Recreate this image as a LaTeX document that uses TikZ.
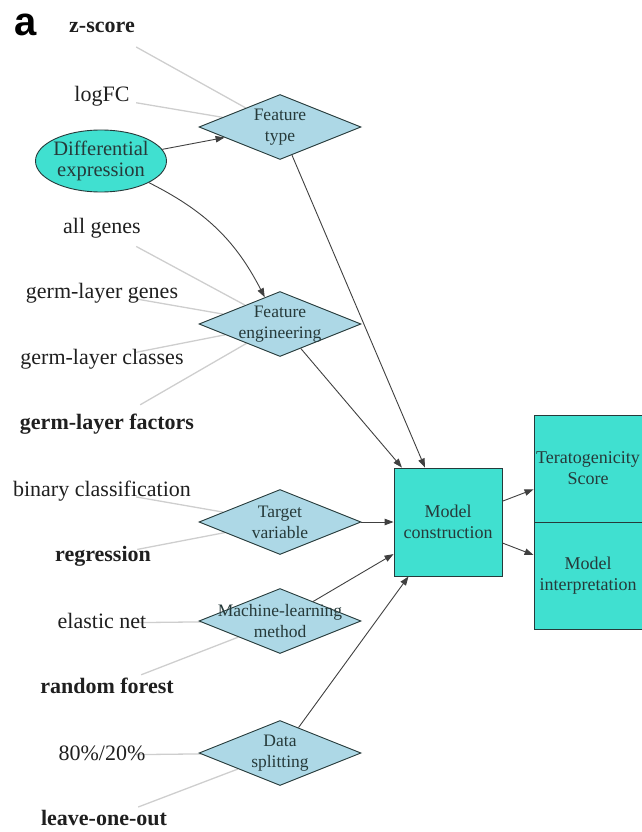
\documentclass[tikz,border=0pt]{standalone}
\usepackage{fontspec}
\setmainfont{Liberation Serif}
\newfontfamily\panelfont{Liberation Sans}
\usetikzlibrary{arrows.meta,shapes.geometric,backgrounds}

\definecolor{turq}{RGB}{64,224,208}
\definecolor{lblue}{RGB}{173,216,230}
\definecolor{slate}{RGB}{38,58,58}
\definecolor{optline}{RGB}{206,206,206}

\begin{document}
\begin{tikzpicture}[x=1pt, y=-1pt, > = {Triangle[length=9pt,width=6.5pt]}]
            \tikzstyle{opt}=[rectangle, minimum width=68pt, minimum height=38pt, inner sep=0pt]
            \tikzstyle{otxt}=[font=\rmfamily\fontsize{22}{26}\selectfont, text=black!88, text height=15pt, text depth=5pt, inner sep=0pt]
            \tikzstyle{obtxt}=[otxt, font=\rmfamily\fontsize{22}{26}\selectfont\bfseries]
            \tikzstyle{dia}=[diamond, draw=slate, fill=lblue, line width=0.9pt, minimum width=162pt, minimum height=65pt, inner sep=0pt]
            \tikzstyle{dtxt}=[font=\rmfamily\fontsize{17.5}{21}\selectfont, text=slate, align=center, inner sep=0pt]
            \tikzstyle{box}=[rectangle, draw=slate, fill=turq, line width=0.9pt, minimum width=108pt, minimum height=108pt, inner sep=0pt, font=\rmfamily\fontsize{18}{21}\selectfont, text=slate, align=center]
            \tikzstyle{edge}=[->, draw=black!75, line width=0.9pt]
            \tikzstyle{optedge}=[draw=optline, line width=1.3pt]

            \useasboundingbox (0,0) rectangle (641,832);

            % panel letter
            \node[font=\panelfont\bfseries\fontsize{40}{40}\selectfont] (panel) at (26,25) {a};

            % options
            \node[opt, label={[obtxt]center:z-score}] (zscore) at (102,28) {};
            \node[opt, label={[otxt]center:logFC}] (logfc) at (102,97) {};
            \node[opt, label={[otxt]center:all genes}] (allg) at (102,228) {};
            \node[opt, label={[otxt]center:germ-layer genes}] (glgenes) at (102,293) {};
            \node[opt, label={[otxt]center:germ-layer classes}] (glclass) at (102,359) {};
            \node[opt, label={[obtxt]center:germ-layer factors}] (glfact) at (107,424) {};
            \node[opt, label={[otxt]center:binary classification}] (binclass) at (102,491) {};
            \node[opt, label={[obtxt]center:regression}] (regr) at (103,556) {};
            \node[opt, label={[otxt]center:elastic net}] (enet) at (102,623) {};
            \node[opt, label={[obtxt]center:random forest}] (rforest) at (107,688) {};
            \node[opt, label={[otxt]center:80\%/20\%}] (split) at (102,755) {};
            \node[opt, label={[obtxt]center:leave-one-out}] (loo) at (104,820) {};

            % decisions
            \node[ellipse, draw=slate, fill=turq, line width=0.9pt, minimum width=131pt, minimum height=62pt, inner sep=0pt,
                  label={[dtxt, font=\rmfamily\fontsize{20.5}{21}\selectfont]center:{Differential\\expression}}] (diff) at (101,161) {};
            \node[dia, label={[dtxt]center:{Feature\\type}}] (ftype) at (280,127) {};
            \node[dia, label={[dtxt]center:{Feature\\engineering}}] (feng) at (280,324) {};
            \node[dia, label={[dtxt]center:{Target\\variable}}] (target) at (280,522) {};
            \node[dia, label={[dtxt]center:{Machine-learning\\method}}] (mlmeth) at (280,621) {};
            \node[dia, label={[dtxt]center:{Data\\splitting}}] (dsplit) at (280,753) {};

            % model and outputs
            \node[box] (model) at (448,522) {Model\\construction};
            \node[box, minimum height=107pt] (score) at (588,468.5) {Teratogenicity\\Score};
            \node[box, minimum height=107pt] (interp) at (588,576) {Model\\interpretation};

            % option lines
            \begin{pgfonlayer}{background}
            \draw[optedge] (zscore) -- (ftype);
            \draw[optedge] (logfc) -- (ftype);
            \draw[optedge] (allg) -- (feng);
            \draw[optedge] (glgenes) -- (feng);
            \draw[optedge] (glclass) -- (feng);
            \draw[optedge] (glfact) -- (feng);
            \draw[optedge] (binclass) -- (target);
            \draw[optedge] (regr) -- (target);
            \draw[optedge] (enet) -- (mlmeth);
            \draw[optedge] (rforest) -- (mlmeth);
            \draw[optedge] (split) -- (dsplit);
            \draw[optedge] (loo) -- (dsplit);
            \end{pgfonlayer}

            % flow
            \draw[edge] (diff) -- (ftype);
            \draw[edge] (diff) to[bend left=18] (feng);
            \draw[edge] (ftype) -- (model);
            \draw[edge] (feng) -- (model);
            \draw[edge] (target) -- (model);
            \draw[edge] (mlmeth) -- (model);
            \draw[edge] (dsplit) -- (model);
            \draw[edge] (model) -- (score);
            \draw[edge] (model) -- (interp);
\end{tikzpicture}
\end{document}
